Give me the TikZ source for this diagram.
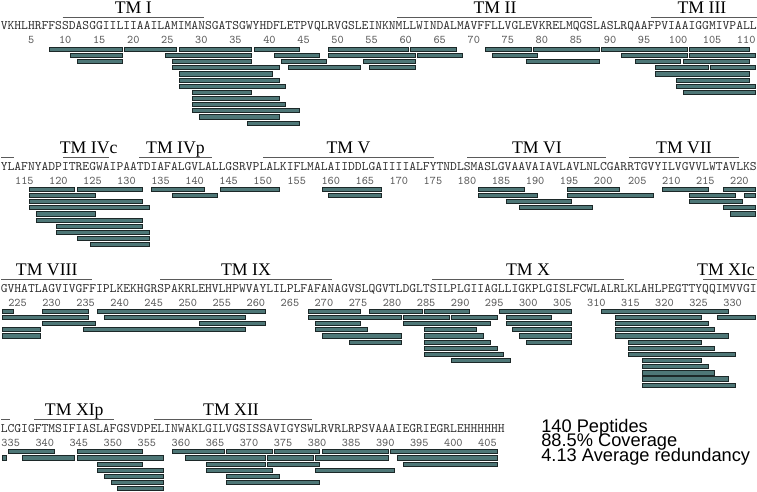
\documentclass[tikz,border=0pt]{standalone}
\usepackage{fontspec}
\newfontfamily\tmfont{Liberation Serif}
\newfontfamily\statfont{Liberation Sans}
\setlength{\lineskiplimit}{-20pt}
\definecolor{PepFill}{HTML}{4E7777}
\definecolor{PepEdge}{HTML}{1C2828}
\definecolor{TMLine}{HTML}{5A5A5A}
\definecolor{SeqInk}{HTML}{2E2E2E}
\definecolor{TickInk}{HTML}{5C5C5C}
\tikzset{
  pep/.style={fill=PepFill,draw=PepEdge,line width=0.6pt},
  tmline/.style={draw=TMLine,line width=1pt},
  tmlabel/.style={anchor=base,inner sep=0pt,font=\tmfont\fontsize{13.3}{16}\selectfont},
  seqtext/.style={anchor=base west,inner sep=0pt,text=SeqInk,font=\ttfamily\fontsize{9.7286}{11}\selectfont},
  ticklabel/.style={anchor=base,inner sep=0pt,text=TickInk,font=\ttfamily\fontsize{8.8}{10}\selectfont},
  stattext/.style={anchor=north west,inner sep=0pt,align=left,font=\statfont\fontsize{13.7}{11}\selectfont},
}
\newcommand{\resw}{6.81}
% residue numbers: first residue of row, y of first bar line, first, second, last number
\newcommand{\ticks}[5]{%
  \foreach \n in {#3,#4,...,#5}
    \node[ticklabel] (tick\n) at ({0.5+(\n-#1+0.5)*\resw},{#2-5.3}) {\n};
}
% peptides of one row: first residue of row, y of first bar line, line/from/to
\newcommand{\peprow}[3]{%
  \foreach \pepl/\pepa/\pepb in {#3}
    \draw[pep] ({0.5+(\pepa-#1)*\resw+1.5},{#2+(\pepl-1)*6.15-2.1})
      rectangle ({0.5+(\pepb-#1+1)*\resw-0.7},{#2+(\pepl-1)*6.15+2.1});
}

\begin{document}
\begin{tikzpicture}[x=0.75pt,y=-0.75pt]
  \useasboundingbox (0,0) rectangle (757,492);

  % sequence
  \node[seqtext] (seq1) at (0.5,30) {VKHLHRFFSSDASGGIILIIAAILAMIMANSGATSGWYHDFLETPVQLRVGSLEINKNMLLWINDALMAVFFLLVGLEVKRELMQGSLASLRQAAFPVIAAIGGMIVPALL};
  \node[seqtext] (seq2) at (0.5,170) {YLAFNYADPITREGWAIPAATDIAFALGVLALLGSRVPLALKIFLMALAIIDDLGAIIIIALFYTNDLSMASLGVAAVAIAVLAVLNLCGARRTGVYILVGVVLWTAVLKS};
  \node[seqtext] (seq3) at (0.5,292) {GVHATLAGVIVGFFIPLKEKHGRSPAKRLEHVLHPWVAYLILPLFAFANAGVSLQGVTLDGLTSILPLGIIAGLLIGKPLGISLFCWLALRLKLAHLPEGTTYQQIMVVGI};
  \node[seqtext] (seq4) at (0.5,432.4) {LCGIGFTMSIFIASLAFGSVDPELINWAKLGILVGSISSAVIGYSWLRVRLRPSVAAAIEGRIEGRLEHHHHHH};

  \ticks{1}{49.3}{5}{10}{110}
  \ticks{112}{189.3}{115}{120}{220}
  \ticks{223}{311.3}{225}{230}{330}
  \ticks{334}{451.7}{335}{340}{405}

  % transmembrane segments
  \foreach \xa/\xb/\xt/\yb/\tm [count=\k] in {62.7/204/133.3/49.3/TM I, 397.3/591.7/495/49.3/TM II,
      650.7/757/702/49.3/TM III, 63.3/109.3/88.7/189.3/TM IVc, 139.3/211.7/175.5/189.3/TM IVp,
      263.3/434.3/348.5/189.3/TM V, 467.3/605.7/537/189.3/TM VI, 629.3/739/684/189.3/TM VII,
      1/92.3/46.7/311.3/TM VIII, 160/331.7/246/311.3/TM IX, 432.3/624/528/311.3/TM X,
      703.3/757/726/311.3/TM XIc, 34.3/114.3/74.3/451.7/TM XIp, 154.3/312.3/231/451.7/TM XII}
  {
    \draw[tmline] (\xa,\yb-32) -- (\xb,\yb-32);
    \node[tmlabel] (tm\k) at (\xt,\yb-36) {\tm};
  }
  \draw[tmline] (1,157.3) -- (14,157.3);
  \draw[tmline] (1,419.7) -- (10,419.7);

  % peptides
  \peprow{1}{49.3}{1/8/18, 1/19/26, 1/27/37, 1/38/44, 1/49/60, 1/61/67, 1/72/78, 1/79/88, 1/89/101, 1/102/110,
    2/11/18, 2/25/37, 2/41/47, 2/49/61, 2/62/68, 2/73/79, 2/92/101, 2/102/111,
    3/12/18, 3/26/37, 3/42/48, 3/54/61, 3/78/88, 3/94/100, 3/101/110,
    4/26/41, 4/43/53, 4/55/61, 4/97/104, 4/105/111,
    5/27/40, 5/97/110, 6/27/41, 6/100/110, 7/27/42, 7/100/111, 8/29/37, 8/101/111,
    9/29/41, 10/29/42, 11/29/44, 12/30/41, 13/37/44}
  \peprow{112}{189.3}{1/116/122, 1/123/132, 1/134/141, 1/144/152, 1/159/167, 1/182/188, 1/195/202, 1/209/215, 1/218/222,
    2/116/125, 2/137/143, 2/160/167, 2/182/190, 2/195/207, 2/213/219, 2/221/222,
    3/116/132, 3/186/195, 3/213/220, 4/116/133, 4/188/198, 4/218/222,
    5/117/125, 5/219/222, 6/117/132, 7/120/132, 8/120/133, 9/123/133, 10/125/133}
  \peprow{223}{311.3}{1/223/224, 1/229/235, 1/237/261, 1/268/275, 1/277/284, 1/285/291, 1/296/306, 1/311/329,
    2/223/235, 2/238/258, 2/268/281, 2/282/288, 2/289/295, 2/297/303, 2/313/325, 2/328/333,
    3/229/236, 3/252/261, 3/269/275, 3/282/294, 3/297/306, 3/313/326,
    4/223/228, 4/235/258, 4/269/276, 4/285/292, 4/298/306, 4/313/327,
    5/223/228, 5/270/281, 5/285/293, 5/299/306, 5/313/329,
    6/274/281, 6/285/294, 6/300/306, 6/315/325,
    7/285/295, 7/315/327, 8/285/296, 8/315/330, 9/289/297, 9/317/325,
    10/317/326, 11/317/327, 12/317/329, 13/317/330}
  \peprow{334}{451.7}{1/335/341, 1/345/354, 1/359/366, 1/367/373, 1/374/380, 1/381/390, 1/391/406,
    2/334/334, 2/337/344, 2/345/357, 2/361/372, 2/373/379, 2/380/390, 2/392/406,
    3/348/354, 3/364/372, 3/373/380, 3/393/406,
    4/348/357, 4/364/373, 4/380/391,
    5/349/357, 5/367/374, 6/350/357, 6/367/380, 7/351/357}

  % summary
  \node[stattext] (summary) at (541,418.6) {140 Peptides\\88.5\% Coverage\\4.13 Average redundancy};
\end{tikzpicture}
\end{document}
